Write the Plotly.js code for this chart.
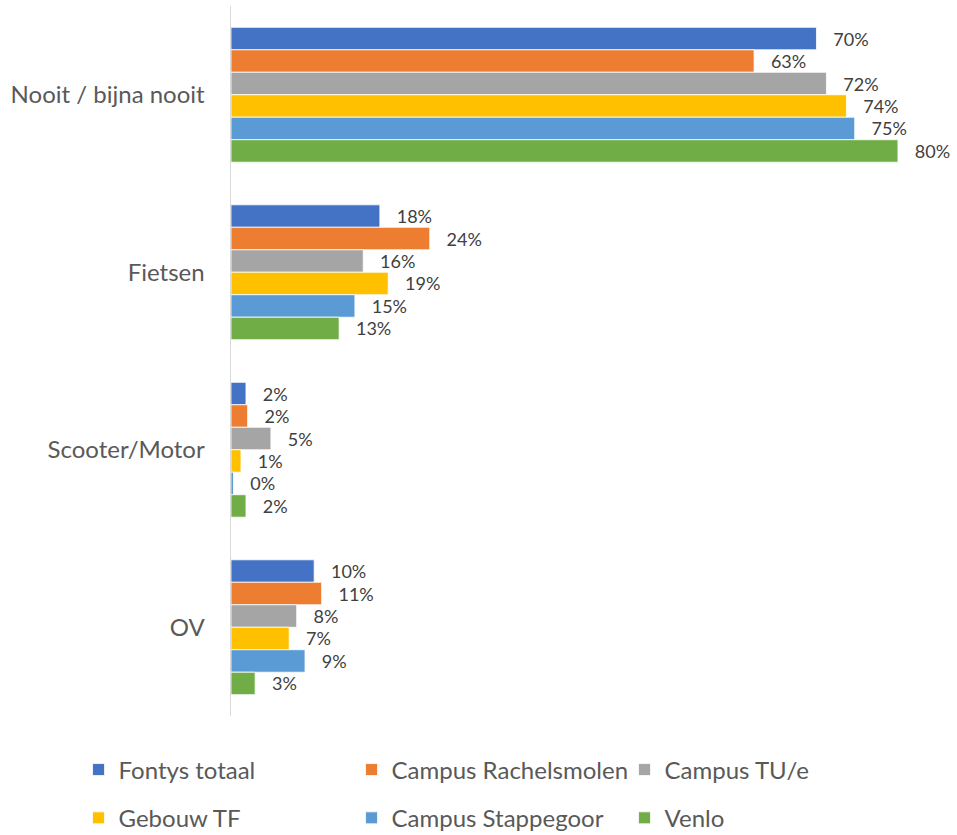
<!DOCTYPE html>
<html>
<head>
<meta charset="utf-8">
<script src="https://cdn.plot.ly/plotly-3.0.1.min.js"></script>
<style>html,body{margin:0;padding:0;background:#fff}#chart{width:957px;height:835px}</style>
</head>
<body>
<div id="chart"></div>
<script>
var categories = ["Nooit / bijna nooit", "Fietsen", "Scooter/Motor", "OV"];
var seriesNames = ["Fontys totaal", "Campus Rachelsmolen", "Campus TU/e", "Gebouw TF", "Campus Stappegoor", "Venlo"];
var fontysTotaal = [70.4, 17.9, 1.8, 10.0];
var campusRachelsmolen = [62.9, 23.9, 2.0, 10.9];
var campusTUe = [71.6, 15.9, 4.8, 7.9];
var gebouwTF = [74.0, 18.9, 1.2, 7.0];
var campusStappegoor = [75.0, 14.9, 0.3, 8.9];
var venlo = [80.2, 13.0, 1.8, 2.9];
var colors = ["#4472C4", "#ED7D31", "#A5A5A5", "#FFC000", "#5B9BD5", "#70AD47"];

var allValues = [fontysTotaal, campusRachelsmolen, campusTUe, gebouwTF, campusStappegoor, venlo];
var FONT = "Lato, 'Open Sans', sans-serif";

var traces = allValues.map(function (vals, i) {
  return {
    type: "bar",
    orientation: "h",
    name: seriesNames[i],
    y: categories,
    x: vals,
    marker: { color: colors[i], line: { color: "#ffffff", width: 0.8 } },
    text: vals.map(function (v) { return Math.round(v) + "%"; }),
    texttemplate: "\u00a0\u00a0\u00a0%{text}",
    textposition: "outside",
    cliponaxis: false,
    constraintext: "none",
    textfont: { family: FONT, size: 18, color: "#404040" },
    hoverinfo: "skip",
    legend: i < 3 ? "legend" : "legend2"
  };
});

var legendCommon = {
  orientation: "h",
  xanchor: "left",
  yanchor: "middle",
  entrywidth: 228,
  entrywidthmode: "pixels",
  traceorder: "normal",
  font: { family: FONT, size: 24, color: "#595959" },
  bgcolor: "rgba(0,0,0,0)",
  borderwidth: 0
};

var layout = {
  width: 957,
  height: 835,
  margin: { l: 231, r: 0, t: 6, b: 119, autoexpand: false },
  paper_bgcolor: "#ffffff",
  plot_bgcolor: "#ffffff",
  barmode: "group",
  bargap: 0.24,
  bargroupgap: 0,
  showlegend: true,
  xaxis: {
    range: [0, 87.3],
    showticklabels: false,
    showgrid: false,
    zeroline: false,
    showline: false,
    ticks: ""
  },
  yaxis: {
    autorange: "reversed",
    showline: true,
    linecolor: "#D9D9D9",
    linewidth: 1.5,
    ticks: "",
    ticklabelstandoff: 20,
    tickfont: { family: FONT, size: 24, color: "#595959" },
    showgrid: false,
    zeroline: false
  },
  legend: Object.assign({}, legendCommon, { x: -0.21, y: -0.076 }),
  legend2: Object.assign({}, legendCommon, { x: -0.21, y: -0.144 })
};

Plotly.newPlot("chart", traces, layout, { displayModeBar: false, staticPlot: true });
</script>
</body>
</html>
